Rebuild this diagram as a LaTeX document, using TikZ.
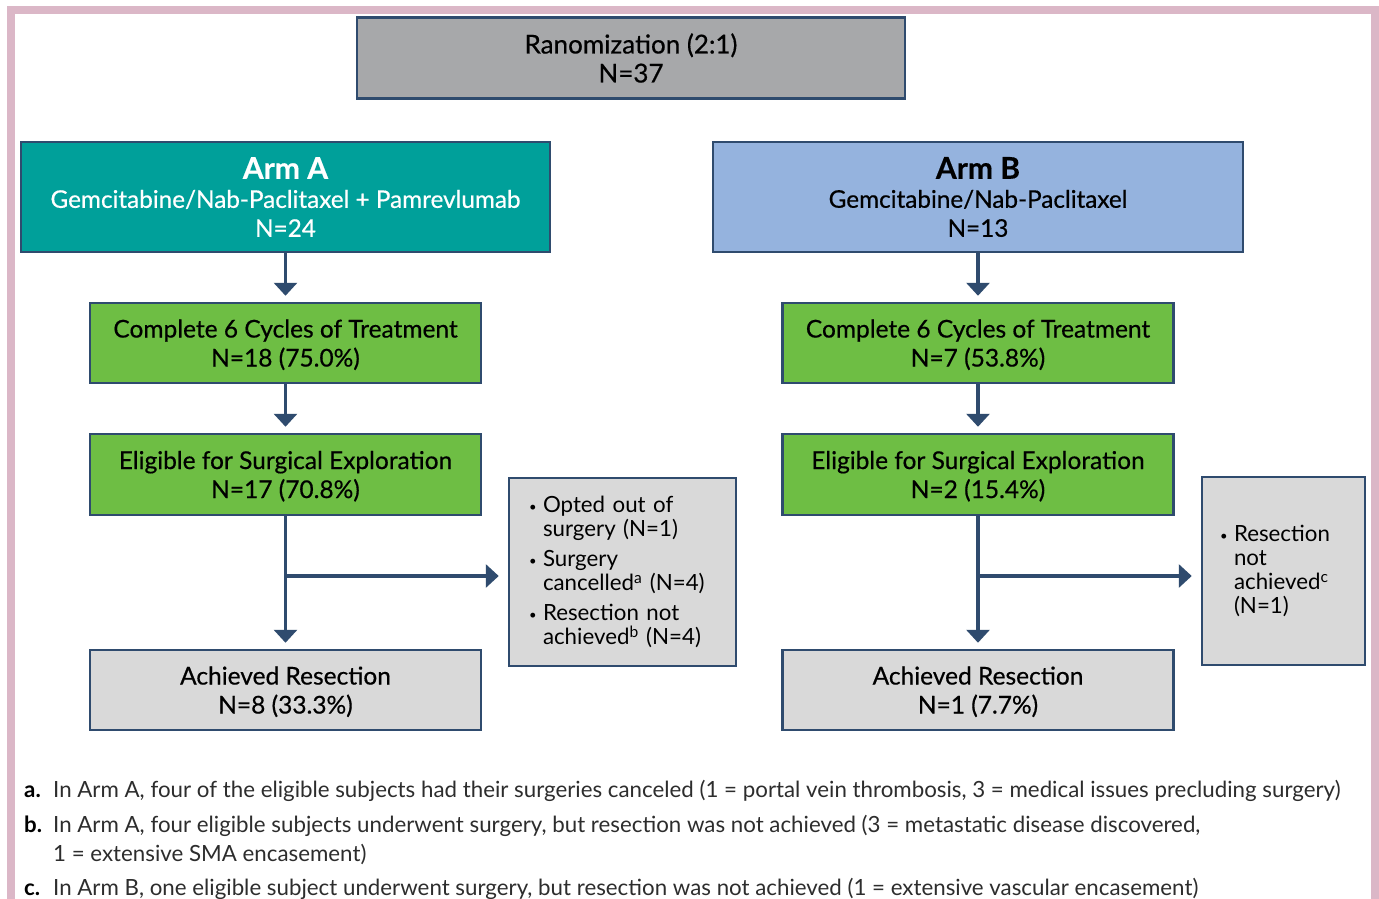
\documentclass[tikz,border=0pt]{standalone}
\usepackage{fontspec}
\setmainfont{Lato}
\newfontfamily\boxfont{Lato}[FakeBold=0.5]
\usetikzlibrary{arrows.meta}

\definecolor{navy}{RGB}{47,75,110}
\definecolor{randgray}{RGB}{167,168,170}
\definecolor{armteal}{RGB}{0,160,154}
\definecolor{armblue}{RGB}{149,179,222}
\definecolor{stepgreen}{RGB}{110,190,68}
\definecolor{lightgray}{RGB}{217,217,217}
\definecolor{framepink}{RGB}{219,183,199}
\definecolor{notegray}{RGB}{45,45,45}

\newcommand{\bul}{\makebox[14pt][l]{\raisebox{1.5pt}{\fontsize{13}{13}\selectfont\textbullet}}}
\newcommand{\ind}{\hspace*{14pt}}

\begin{document}
\begin{tikzpicture}[x=1pt,y=-1pt,
    box/.style={draw=navy,line width=2.5pt,align=center,inner sep=0pt,
      font=\boxfont\fontsize{24.5}{29}\selectfont},
    wide/.style={box,minimum width=391pt,minimum height=80pt,text depth=-10pt},
    side/.style={box,fill=lightgray,align=left,minimum height=188pt,
      font=\fontsize{22.3}{24}\selectfont},
    flow/.style={draw=navy,line width=3.5pt,
      -{Triangle[width=23pt,length=13pt]},shorten >=6pt},
    note/.style={anchor=base west,inner sep=0pt,text=notegray,
      font=\fontsize{22.3}{29}\selectfont},
    notelab/.style={note,text=black,font=\fontsize{22.3}{29}\bfseries\selectfont}]
      \clip (0,0) rectangle (1379,898);
      \fill[white] (0,0) rectangle (1379,898);
      % pink frame, open at the bottom
      \draw[framepink,line width=8pt] (11,920) -- (11,10) -- (1375,10) -- (1375,920);

      \node[box,fill=randgray,minimum width=548pt,minimum height=81pt,
        font=\boxfont\fontsize{26}{29}\selectfont] (rand) at (631,58)
        {Ranomization (2:1)\\N=37};

      \node[box,fill=armteal,text=white,minimum width=529pt,minimum height=110pt,
        font=\boxfont\fontsize{24.3}{29}\selectfont] (armA) at (285.5,197)
        {{\fontsize{30}{32}\bfseries\selectfont Arm A}\\Gemcitabine/Nab-Paclitaxel + Pamrevlumab\\N=24};
      \node[box,fill=armblue,minimum width=530pt,minimum height=110pt,
        font=\boxfont\fontsize{24.3}{29}\selectfont] (armB) at (978,197)
        {{\fontsize{30}{32}\bfseries\selectfont Arm B}\\Gemcitabine/Nab-Paclitaxel\\N=13};

      \node[wide,fill=stepgreen] (compA) at (285.5,343) {Complete 6 Cycles of Treatment\\N=18 (75.0\%)};
      \node[wide,fill=stepgreen] (compB) at (978,343) {Complete 6 Cycles of Treatment\\N=7 (53.8\%)};
      \node[wide,fill=stepgreen,minimum height=81pt] (eligA) at (285.5,474.5) {Eligible for Surgical Exploration\\N=17 (70.8\%)};
      \node[wide,fill=stepgreen,minimum height=81pt] (eligB) at (978,474.5) {Eligible for Surgical Exploration\\N=2 (15.4\%)};
      \node[wide,fill=lightgray] (achA) at (285.5,690) {Achieved Resection\\N=8 (33.3\%)};
      \node[wide,fill=lightgray] (achB) at (978,690) {Achieved Resection\\N=1 (7.7\%)};

      \node[side,minimum width=227pt,text width=187pt] (sideA) at (622.5,572)
        {\bul Opted out of\\\ind surgery (N=1)\\[6pt]\bul Surgery\\\ind cancelled\textsuperscript{a} (N=4)\\[6pt]\bul Resection not\\\ind achieved\textsuperscript{b} (N=4)};
      \node[side,minimum width=163pt,text width=127pt] (sideB) at (1283.5,571)
        {\bul Resection\\\ind not\\\ind achieved\textsuperscript{c}\\\ind (N=1)};

      \coordinate (brA) at (285.5,576);
      \coordinate (brB) at (978,576);

      \def \Edges {
        armA/compA,
        compA/eligA,
        eligA/achA,
        armB/compB,
        compB/eligB,
        eligB/achB}
      \foreach \x / \y in \Edges {
        \path[flow] (\x) -- (\y);
      }
      \path[flow,shorten >=9pt] (brA) -- (brA -| sideA.west);
      \path[flow,shorten >=9pt] (brB) -- (brB -| sideB.west);

      % footnotes
      \node[notelab] (labA) at (24,797) {a.};
      \node[note] (noteA) at (53,797) {In Arm A, four of the eligible subjects had their surgeries canceled (1 = portal vein thrombosis, 3 = medical issues precluding surgery)};
      \node[notelab] (labB) at (24,832) {b.};
      \node[note] (noteB) at (53,832) {In Arm A, four eligible subjects underwent surgery, but resection was not achieved (3 = metastatic disease discovered,};
      \node[note] (noteB2) at (53,861) {1 = extensive SMA encasement)};
      \node[notelab] (labC) at (24,895) {c.};
      \node[note] (noteC) at (53,895) {In Arm B, one eligible subject underwent surgery, but resection was not achieved (1 = extensive vascular encasement)};
\end{tikzpicture}
\end{document}
